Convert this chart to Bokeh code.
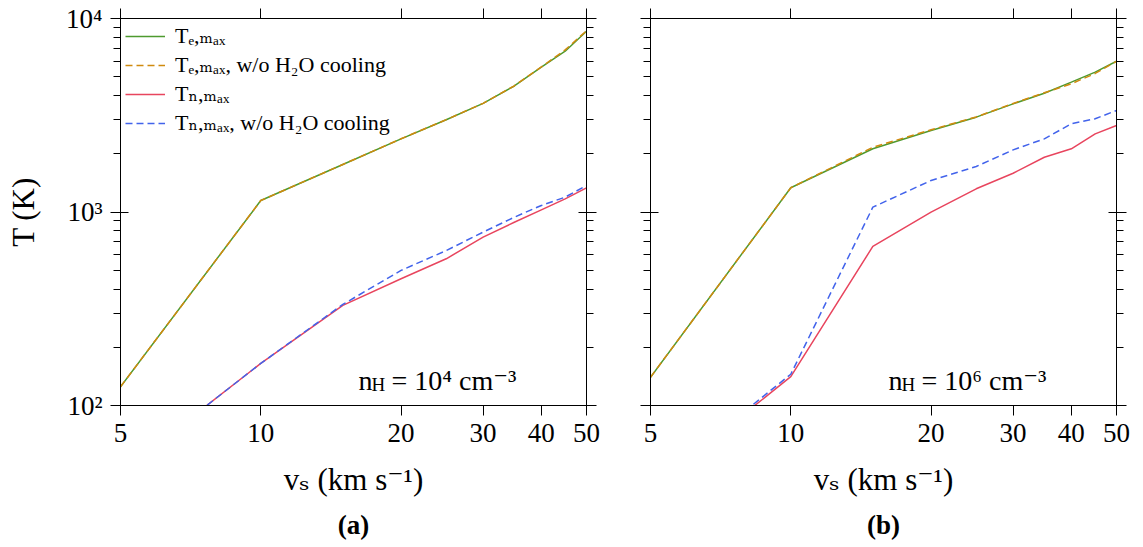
from bokeh.plotting import figure
from bokeh.models import LogAxis, FixedTicker, Legend, LegendItem, Label, Title
from bokeh.layouts import row
from bokeh.embed import file_html
from bokeh.resources import INLINE

# ---------------- data ----------------
v_s = [5, 10, 15, 20, 25, 30, 35, 40, 45, 50]

# panel (a): n_H = 1e4 cm^-3
a_Te = [125, 1146, 1761, 2388, 2997, 3640, 4480, 5600, 6775, 8590]
a_Te_noH2O = [125, 1146, 1761, 2390, 3000, 3645, 4490, 5620, 6880, 8650]
a_Tn = [45, 165, 329, 452, 573, 741, 885, 1026, 1170, 1333]
a_Tn_noH2O = [45, 165, 333, 499, 632, 787, 940, 1081, 1193, 1370]

# panel (b): n_H = 1e6 cm^-3
b_Te = [140, 1334, 2122, 2636, 3091, 3622, 4110, 4688, 5280, 6010]
b_Te_noH2O = [140, 1334, 2160, 2660, 3100, 3640, 4130, 4600, 5200, 6010]
b_Tn = [37, 141, 664, 998, 1318, 1586, 1919, 2122, 2535, 2800]
b_Tn_noH2O = [38, 145, 1059, 1455, 1718, 2094, 2388, 2856, 3035, 3346]

x_ticks = [5, 10, 20, 30, 40, 50]
x_tick_labels = ["5", "10", "20", "30", "40", "50"]
y_ticks = [100, 1000, 10000]
y_tick_labels = ["10²", "10³", "10⁴"]
y_minor = [200, 300, 400, 500, 600, 700, 800, 900,
           2000, 3000, 4000, 5000, 6000, 7000, 8000, 9000]

series_labels = ["Tₑ,ₘₐₓ", "Tₑ,ₘₐₓ, w/o H₂O cooling",
                 "Tₙ,ₘₐₓ", "Tₙ,ₘₐₓ, w/o H₂O cooling"]
panel_density = ["10⁴", "10⁶"]
captions = ["(a)", "(b)"]
x_label = "vₛ (km s⁻¹)"
y_label = "T (K)"

# ---------------- style ----------------
FONT = "Liberation Serif, DejaVu Serif"
colors = ["#4e9a2f", "#d08a0e", "#e8455e", "#4263eb"]
dashes = ["solid", "7 4", "solid", "7 4"]


def style_axis(ax, labels, xaxis):
    ax.axis_line_color = "black"
    ax.axis_line_width = 1
    ax.major_tick_line_color = "black"
    ax.minor_tick_line_color = "black"
    ax.major_tick_out = 10
    ax.major_tick_in = 0 if xaxis else 8
    ax.minor_tick_out = 7
    ax.minor_tick_in = 0
    if xaxis:
        ax.ticker = FixedTicker(ticks=x_ticks, minor_ticks=[])
        ax.major_label_overrides = dict(zip(x_ticks, x_tick_labels))
    else:
        ax.ticker = FixedTicker(ticks=y_ticks, minor_ticks=y_minor)
        ax.major_label_overrides = dict(zip(y_ticks, y_tick_labels))
    ax.major_label_text_font = FONT
    if labels:
        ax.major_label_text_font_size = "27px"
        ax.major_label_standoff = 8
        ax.major_label_text_color = "black"
    else:
        ax.major_label_text_font_size = "1px"
        ax.major_label_standoff = 0
        ax.major_label_text_color = None
    ax.axis_label_text_font = FONT
    ax.axis_label_text_font_size = "31px"
    ax.axis_label_text_font_style = "normal"
    ax.axis_label_text_color = "black"


def make_panel(Te, Te2, Tn, Tn2, left_labels, bl, br, dens, cap, cap_off, legend):
    p = figure(x_axis_type="log", y_axis_type="log", x_range=(5, 50), y_range=(100, 10000),
               frame_width=466, frame_height=387, min_border_left=bl, min_border_right=br,
               min_border_top=18, min_border_bottom=142, title=None,
               output_backend="svg", toolbar_location=None)
    p.grid.visible = False
    p.outline_line_color = None
    p.background_fill_color = "white"
    p.border_fill_color = "white"

    style_axis(p.xaxis[0], True, True)
    p.xaxis[0].axis_label = x_label
    p.xaxis[0].axis_label_standoff = 17
    style_axis(p.yaxis[0], left_labels, False)
    if left_labels:
        p.yaxis[0].axis_label = y_label
        p.yaxis[0].axis_label_standoff = 22

    top = LogAxis()
    style_axis(top, False, True)
    p.add_layout(top, "above")
    right = LogAxis()
    style_axis(right, False, False)
    p.add_layout(right, "right")

    rs = []
    for ys, c, d in zip([Te, Te2, Tn, Tn2], colors, dashes):
        r = p.line(v_s, ys, line_color=c, line_width=1.5, line_dash=d)
        rs.append(r)

    if legend:
        items = [LegendItem(label=l, renderers=[r]) for l, r in zip(series_labels, rs)]
        lg = Legend(items=items, location="top_left", border_line_color=None,
                    background_fill_color="white", background_fill_alpha=1.0,
                    label_text_font=FONT, label_text_font_size="22px",
                    label_text_color="black",
                    glyph_width=40, glyph_height=24, label_height=24,
                    label_standoff=10, spacing=3, margin=5, padding=8)
        p.add_layout(lg)

    ax, ay = 16.2, 135
    p.add_layout(Label(x=ax, y=ay, text="n", text_font=FONT, text_font_size="28px",
                       text_color="black", text_baseline="alphabetic", text_align="left"))
    p.add_layout(Label(x=ax, y=ay, x_offset=13, y_offset=-4, text="H", text_font=FONT,
                       text_color="black", text_font_size="19px",
                       text_baseline="alphabetic", text_align="left"))
    p.add_layout(Label(x=ax, y=ay, x_offset=33, text="= " + dens + " cm⁻³", text_font=FONT,
                       text_color="black", text_font_size="28px",
                       text_baseline="alphabetic", text_align="left"))

    t = Title(text=cap, align="center", offset=cap_off, text_font=FONT, standoff=16,
              text_font_size="27px", text_font_style="bold", text_color="black")
    p.add_layout(t, "below")
    return p


pa = make_panel(a_Te, a_Te_noH2O, a_Tn, a_Tn_noH2O, True, 120, 32, panel_density[0],
                captions[0], -34, True)
pb = make_panel(b_Te, b_Te_noH2O, b_Tn, b_Tn_noH2O, False, 32, 27, panel_density[1],
                captions[1], -32, False)

layout = row(pa, pb)
open("out.html", "w").write(file_html(layout, INLINE))
